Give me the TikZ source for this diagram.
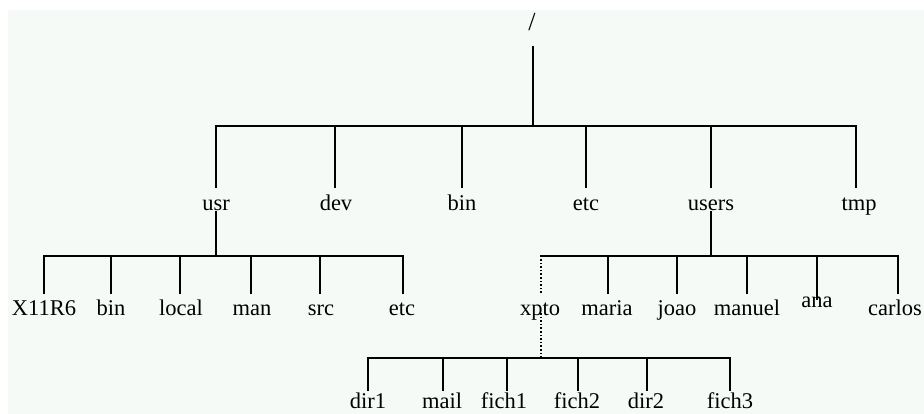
\documentclass[tikz,border=0pt]{standalone}
\usepackage{fontspec}
\setmainfont{Liberation Serif}
\definecolor{bgmint}{RGB}{245,250,246}
\tikzset{
  lbl/.style={anchor=base, inner sep=0pt, font=\fontsize{22.5}{26}\selectfont},
  ln/.style={line width=1.8pt, line cap=rect},
  dln/.style={line width=1.6pt, dotted}
}
\begin{document}
\begin{tikzpicture}[x=1pt,y=-1pt]
\useasboundingbox (0,0) rectangle (924,414);
\clip (0,0) rectangle (924,414);
\fill[bgmint] (8,10) rectangle (924,414);

% labels
\node[lbl, font=\fontsize{26}{30}\selectfont] (root) at (532,31) {/};
\node[lbl] (usr) at (216,211) {usr};
\node[lbl] (dev) at (336,211) {dev};
\node[lbl] (bin) at (462,211) {bin};
\node[lbl] (etc) at (586,211) {etc};
\node[lbl] (users) at (711,211) {users};
\node[lbl] (tmp) at (859,211) {tmp};

\node[lbl] (x11) at (44,315) {X11R6};
\node[lbl] (ubin) at (111,315) {bin};
\node[lbl] (local) at (181,315) {local};
\node[lbl] (man) at (252,315) {man};
\node[lbl] (src) at (321,315) {src};
\node[lbl] (uetc) at (402,315) {etc};

\node[lbl] (xpto) at (540,315) {xpto};
\node[lbl] (maria) at (607,315) {maria};
\node[lbl] (joao) at (677,315) {joao};
\node[lbl] (manuel) at (747,315) {manuel};
\node[lbl] (ana) at (817,307) {ana};
\node[lbl] (carlos) at (895,315) {carlos};

\node[lbl] (dir1) at (368,408) {dir1};
\node[lbl] (mail) at (442,408) {mail};
\node[lbl] (fich1) at (504,408) {fich1};
\node[lbl] (fich2) at (577,408) {fich2};
\node[lbl] (dir2) at (646,408) {dir2};
\node[lbl] (fich3) at (730,408) {fich3};

% connector end points
\coordinate (rootb) at (533,47);
\coordinate (j1) at (533,126);
\coordinate (usrt) at (216,187);
\coordinate (devt) at (335,187);
\coordinate (bint) at (462,187);
\coordinate (etct) at (586,187);
\coordinate (userst) at (711,187);
\coordinate (tmpt) at (856,187);

\coordinate (usrb) at (216,212);
\coordinate (j2) at (216,256);
\coordinate (x11t) at (44,293);
\coordinate (ubint) at (111,293);
\coordinate (localt) at (180,293);
\coordinate (mant) at (251,293);
\coordinate (srct) at (320,293);
\coordinate (uetct) at (403,293);

\coordinate (usersb) at (711,212);
\coordinate (j3) at (711,256);
\coordinate (xptot) at (541,293);
\coordinate (mariat) at (608,293);
\coordinate (joaot) at (677,293);
\coordinate (manuelt) at (747,293);
\coordinate (anat) at (817,299);
\coordinate (carlost) at (898,293);

\coordinate (xptob) at (541,313);
\coordinate (j4) at (541,358);
\coordinate (dir1t) at (368,390);
\coordinate (mailt) at (443,390);
\coordinate (fich1t) at (507,390);
\coordinate (fich2t) at (578,390);
\coordinate (dir2t) at (647,390);
\coordinate (fich3t) at (730,390);

% level 1
\draw[ln] (rootb) -- (j1);
\draw[ln] (usrt) |- (j1) -| (tmpt);
\foreach \c in {devt,bint,etct,userst} \draw[ln] (\c) -- (\c |- j1);

% usr children
\draw[ln] (usrb) -- (j2);
\draw[ln] (x11t) |- (j2) -| (uetct);
\foreach \c in {ubint,localt,mant,srct} \draw[ln] (\c) -- (\c |- j2);

% users children
\draw[ln] (usersb) -- (j3);
\draw[ln] (xptot |- j3) -- (j3) -| (carlost);
\draw[dln] (xptot) -- (xptot |- j3);
\foreach \c in {mariat,joaot,manuelt,anat} \draw[ln] (\c) -- (\c |- j3);

% xpto children
\draw[dln] (xptob) -- (j4);
\draw[ln] (dir1t) |- (j4) -| (fich3t);
\foreach \c in {mailt,fich1t,fich2t,dir2t} \draw[ln] (\c) -- (\c |- j4);
\end{tikzpicture}
\end{document}
